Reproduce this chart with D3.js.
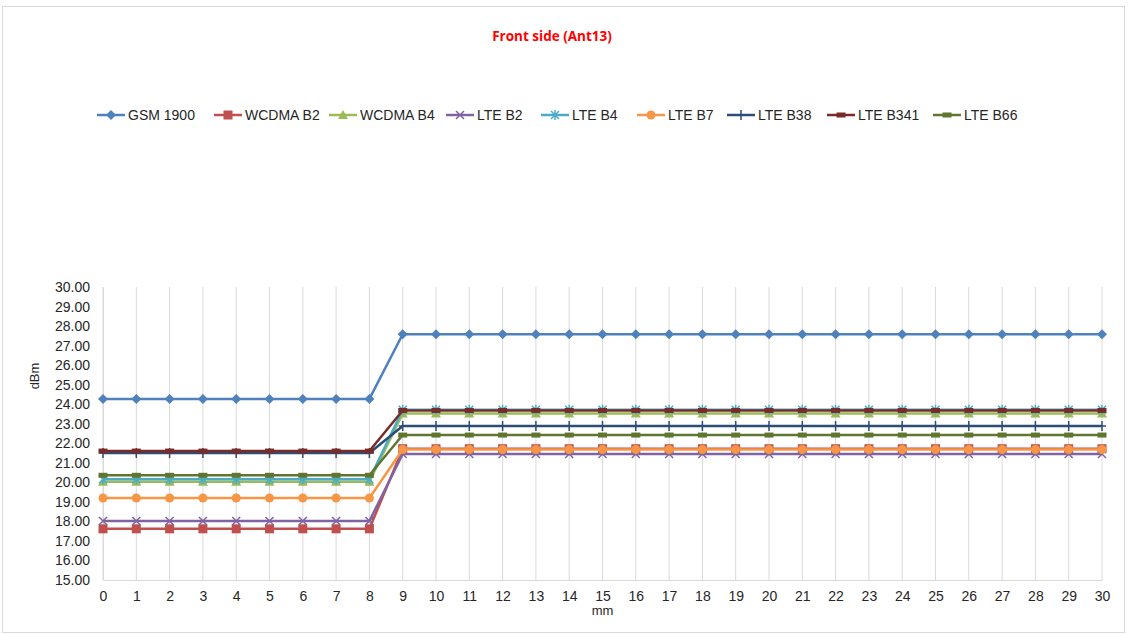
<!DOCTYPE html>
<html><head><meta charset="utf-8">
<script src="https://cdn.jsdelivr.net/npm/d3@7"></script>
<style>body{margin:0;background:#fff;}svg{display:block;font-family:"Liberation Sans",Arial,sans-serif;}</style>
</head><body>
<script>
const xValues = [0,1,2,3,4,5,6,7,8,9,10,11,12,13,14,15,16,17,18,19,20,21,22,23,24,25,26,27,28,29,30];
const yTicks = [15,16,17,18,19,20,21,22,23,24,25,26,27,28,29,30];
const seriesNames = ["GSM 1900","WCDMA B2","WCDMA B4","LTE B2","LTE B4","LTE B7","LTE B38","LTE B341","LTE B66"];
const gsm1900  = [24.27,24.27,24.27,24.27,24.27,24.27,24.27,24.27,24.27,27.58,27.58,27.58,27.58,27.58,27.58,27.58,27.58,27.58,27.58,27.58,27.58,27.58,27.58,27.58,27.58,27.58,27.58,27.58,27.58,27.58,27.58];
const wcdmaB2  = [17.62,17.62,17.62,17.62,17.62,17.62,17.62,17.62,17.62,21.72,21.72,21.72,21.72,21.72,21.72,21.72,21.72,21.72,21.72,21.72,21.72,21.72,21.72,21.72,21.72,21.72,21.72,21.72,21.72,21.72,21.72];
const wcdmaB4  = [20.03,20.03,20.03,20.03,20.03,20.03,20.03,20.03,20.03,23.52,23.52,23.52,23.52,23.52,23.52,23.52,23.52,23.52,23.52,23.52,23.52,23.52,23.52,23.52,23.52,23.52,23.52,23.52,23.52,23.52,23.52];
const lteB2    = [18.02,18.02,18.02,18.02,18.02,18.02,18.02,18.02,18.02,21.45,21.45,21.45,21.45,21.45,21.45,21.45,21.45,21.45,21.45,21.45,21.45,21.45,21.45,21.45,21.45,21.45,21.45,21.45,21.45,21.45,21.45];
const lteB4    = [20.16,20.16,20.16,20.16,20.16,20.16,20.16,20.16,20.16,23.72,23.72,23.72,23.72,23.72,23.72,23.72,23.72,23.72,23.72,23.72,23.72,23.72,23.72,23.72,23.72,23.72,23.72,23.72,23.72,23.72,23.72];
const lteB7    = [19.2,19.2,19.2,19.2,19.2,19.2,19.2,19.2,19.2,21.68,21.68,21.68,21.68,21.68,21.68,21.68,21.68,21.68,21.68,21.68,21.68,21.68,21.68,21.68,21.68,21.68,21.68,21.68,21.68,21.68,21.68];
const lteB38   = [21.5,21.5,21.5,21.5,21.5,21.5,21.5,21.5,21.5,22.88,22.88,22.88,22.88,22.88,22.88,22.88,22.88,22.88,22.88,22.88,22.88,22.88,22.88,22.88,22.88,22.88,22.88,22.88,22.88,22.88,22.88];
const lteB341  = [21.6,21.6,21.6,21.6,21.6,21.6,21.6,21.6,21.6,23.68,23.68,23.68,23.68,23.68,23.68,23.68,23.68,23.68,23.68,23.68,23.68,23.68,23.68,23.68,23.68,23.68,23.68,23.68,23.68,23.68,23.68];
const lteB66   = [20.36,20.36,20.36,20.36,20.36,20.36,20.36,20.36,20.36,22.42,22.42,22.42,22.42,22.42,22.42,22.42,22.42,22.42,22.42,22.42,22.42,22.42,22.42,22.42,22.42,22.42,22.42,22.42,22.42,22.42,22.42];

const seriesData = [gsm1900,wcdmaB2,wcdmaB4,lteB2,lteB4,lteB7,lteB38,lteB341,lteB66];
const colors = ["#4F81BD","#C0504D","#9BBB59","#8064A2","#4BACC6","#F79646","#2C4D75","#772C2A","#5F7530"];
const markers = ["diamond","square","triangle","x","asterisk","circle","plus","dash","dash"];

const W = 1129, H = 634;
const svg = d3.select("body").append("svg").attr("width", W).attr("height", H);
svg.append("rect").attr("x",2.5).attr("y",6.5).attr("width",1122).attr("height",626)
  .attr("fill","#fff").attr("stroke","#d9d9d9").attr("stroke-width",1);

const pL = 103, pR = 1102, pT = 287, pB = 580;
const x = d3.scaleLinear().domain([0,30]).range([pL,pR]);
const y = d3.scaleLinear().domain([15,30]).range([pB,pT]);

// title
svg.append("text").attr("x",552).attr("y",41).attr("text-anchor","middle")
  .attr("fill","#FF0000").attr("font-weight","bold").attr("font-size","13.5px")
  .attr("font-family","'Open Sans','Liberation Sans',sans-serif").text("Front side (Ant13)");

// vertical gridlines
svg.append("g").selectAll("line").data(xValues).join("line")
  .attr("x1",d=>x(d)).attr("x2",d=>x(d)).attr("y1",pT).attr("y2",pB)
  .attr("stroke","#d9d9d9").attr("stroke-width",1);

// axes
const yAxis = d3.axisLeft(y).tickValues(yTicks).tickFormat(d3.format(".2f")).tickSize(0).tickPadding(13);
const gy = svg.append("g").attr("transform",`translate(${pL},0)`).call(yAxis);
gy.select(".domain").attr("stroke","#d9d9d9");
gy.selectAll("text").attr("font-size","14px").attr("fill","#262626");

const xAxis = d3.axisBottom(x).tickValues(xValues).tickFormat(d3.format("d")).tickSize(0).tickPadding(11);
const gx = svg.append("g").attr("transform",`translate(0,${pB})`).call(xAxis);
gx.select(".domain").attr("stroke","#d9d9d9");
gx.selectAll("text").attr("font-size","14px").attr("fill","#262626");

svg.append("text").attr("x",x(15)).attr("y",615).attr("text-anchor","middle")
  .attr("font-size","13px").attr("fill","#262626").text("mm");
svg.append("text").attr("transform","translate(39,376) rotate(-90)").attr("text-anchor","middle")
  .attr("font-size","13px").attr("fill","#262626").text("dBm");

function drawMarker(g, type, color, cx, cy) {
  const s = 4;
  if (type === "diamond") {
    g.append("path").attr("d",`M${cx},${cy-5}L${cx+5},${cy}L${cx},${cy+5}L${cx-5},${cy}Z`).attr("fill",color);
  } else if (type === "square") {
    g.append("rect").attr("x",cx-4.5).attr("y",cy-4.5).attr("width",9).attr("height",9).attr("fill",color);
  } else if (type === "triangle") {
    g.append("path").attr("d",`M${cx},${cy-5}L${cx+5},${cy+4}L${cx-5},${cy+4}Z`).attr("fill",color);
  } else if (type === "x") {
    g.append("path").attr("d",`M${cx-s},${cy-s}L${cx+s},${cy+s}M${cx-s},${cy+s}L${cx+s},${cy-s}`).attr("stroke",color).attr("stroke-width",1.5);
  } else if (type === "asterisk") {
    g.append("path").attr("d",`M${cx-s},${cy-s}L${cx+s},${cy+s}M${cx-s},${cy+s}L${cx+s},${cy-s}M${cx},${cy-s-1}L${cx},${cy+s+1}`).attr("stroke",color).attr("stroke-width",1.5);
  } else if (type === "circle") {
    g.append("circle").attr("cx",cx).attr("cy",cy).attr("r",4.5).attr("fill",color);
  } else if (type === "plus") {
    g.append("path").attr("d",`M${cx-s},${cy}L${cx+s},${cy}M${cx},${cy-s-1}L${cx},${cy+s+1}`).attr("stroke",color).attr("stroke-width",1.5);
  } else if (type === "dash") {
    g.append("rect").attr("x",cx-4.5).attr("y",cy-2.5).attr("width",9).attr("height",5).attr("fill",color);
  }
}

const line = d3.line().x((d,i)=>x(xValues[i])).y(d=>y(d));
seriesData.forEach((vals,k)=>{
  const g = svg.append("g");
  g.append("path").datum(vals).attr("d",line).attr("fill","none")
    .attr("stroke",colors[k]).attr("stroke-width",2.5).attr("stroke-linejoin","round");
  vals.forEach((v,i)=>drawMarker(g, markers[k], colors[k], x(xValues[i]), y(v)));
});

// legend
const legendX = [97,214,329,446,541,637,727,827,933];
const lg = svg.append("g");
seriesNames.forEach((name,k)=>{
  const lx = legendX[k], ly = 115;
  lg.append("line").attr("x1",lx).attr("x2",lx+28).attr("y1",ly).attr("y2",ly)
    .attr("stroke",colors[k]).attr("stroke-width",2.5);
  drawMarker(lg, markers[k], colors[k], lx+14, ly);
  lg.append("text").attr("x",lx+31).attr("y",ly+5).attr("font-size","14px").attr("fill","#262626").text(name);
});
</script>
</body></html>
